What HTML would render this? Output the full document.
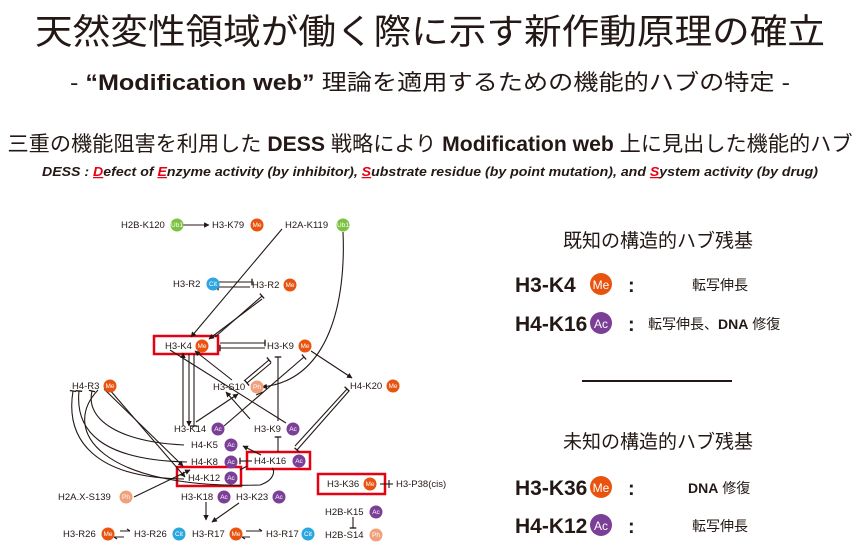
<!DOCTYPE html>
<html><head><meta charset="utf-8"><style>
html,body{margin:0;padding:0;background:#fff;}
svg{display:block}
.t{font-family:"Liberation Sans","Noto Sans CJK JP",sans-serif;fill:#231815}
.n{font-family:"Liberation Sans",sans-serif;font-size:9.5px;fill:#231815}
.b{font-family:"Liberation Sans",sans-serif;font-size:6.5px;fill:#fff;text-anchor:middle}
.e{stroke:#231815;stroke-width:1.1;fill:none}
</style></head><body>
<svg width="860" height="559" viewBox="0 0 860 559" xmlns="http://www.w3.org/2000/svg">
<defs>
<marker id="a" viewBox="0 0 10 10" refX="9" refY="5" markerWidth="5" markerHeight="5" orient="auto"><path d="M0,0L10,5L0,10z" fill="#231815"/></marker>
<marker id="b" viewBox="0 0 4 10" refX="2" refY="5" markerWidth="2.5" markerHeight="6" orient="auto"><path d="M2,0V10" stroke="#231815" stroke-width="2"/></marker>
</defs>
<text class="t" x="430" y="44" font-size="35" text-anchor="middle" textLength="790" lengthAdjust="spacingAndGlyphs">天然変性領域が働く際に示す新作動原理の確立</text>
<text class="t" x="430" y="90" font-size="22" text-anchor="middle" textLength="720" lengthAdjust="spacingAndGlyphs">- <tspan font-weight="bold">“Modification web”</tspan> 理論を適用するための機能的ハブの特定 -</text>
<text class="t" x="430" y="151" font-size="21" text-anchor="middle" textLength="845" lengthAdjust="spacingAndGlyphs">三重の機能阻害を利用した <tspan font-weight="bold">DESS</tspan> 戦略により <tspan font-weight="bold">Modification web</tspan> 上に見出した機能的ハブ</text>
<text class="t" x="430" y="176" font-size="12.5" font-weight="bold" font-style="italic" text-anchor="middle" textLength="776" lengthAdjust="spacingAndGlyphs">DESS : <tspan fill="#e60012" text-decoration="underline">D</tspan>efect of <tspan fill="#e60012" text-decoration="underline">E</tspan>nzyme activity (by inhibitor), <tspan fill="#e60012" text-decoration="underline">S</tspan>ubstrate residue (by point mutation), and <tspan fill="#e60012" text-decoration="underline">S</tspan>ystem activity (by drug)</text>

<!-- right panel -->
<text class="t" x="658" y="247" font-size="19" text-anchor="middle">既知の構造的ハブ残基</text>
<text class="t" x="515" y="292" font-size="21" font-weight="bold">H3-K4</text>
<circle cx="601" cy="284" r="11" fill="#e8540f"/><text class="b" x="601" y="289" style="font-size:12px">Me</text>
<text class="t" x="628" y="292" font-size="20" font-weight="bold">:</text>
<text class="t" x="692" y="290" font-size="14">転写伸長</text>
<text class="t" x="515" y="331" font-size="21" font-weight="bold">H4-K16</text>
<circle cx="601" cy="323" r="11" fill="#7b3f98"/><text class="b" x="601" y="328" style="font-size:12px">Ac</text>
<text class="t" x="628" y="331" font-size="20" font-weight="bold">:</text>
<text class="t" x="648" y="329" font-size="14">転写伸長、<tspan font-weight="bold">DNA</tspan> 修復</text>
<rect x="582" y="380" width="150" height="2" fill="#231815"/>
<text class="t" x="658" y="448" font-size="19" text-anchor="middle">未知の構造的ハブ残基</text>
<text class="t" x="515" y="495" font-size="21" font-weight="bold">H3-K36</text>
<circle cx="601" cy="487" r="11" fill="#e8540f"/><text class="b" x="601" y="492" style="font-size:12px">Me</text>
<text class="t" x="628" y="495" font-size="20" font-weight="bold">:</text>
<text class="t" x="688" y="493" font-size="14"><tspan font-weight="bold">DNA</tspan> 修復</text>
<text class="t" x="515" y="533" font-size="21" font-weight="bold">H4-K12</text>
<circle cx="601" cy="525" r="11" fill="#7b3f98"/><text class="b" x="601" y="530" style="font-size:12px">Ac</text>
<text class="t" x="628" y="533" font-size="20" font-weight="bold">:</text>
<text class="t" x="692" y="531" font-size="14">転写伸長</text>

<!-- diagram boxes -->
<rect x="154" y="336" width="64" height="18" fill="none" stroke="#e60012" stroke-width="2.5"/>
<rect x="247" y="452" width="63" height="17" fill="none" stroke="#e60012" stroke-width="2.5"/>
<rect x="177" y="467" width="64" height="19" fill="none" stroke="#e60012" stroke-width="2.5"/>
<rect x="318" y="474" width="67" height="20" fill="none" stroke="#e60012" stroke-width="2.5"/>

<!-- edges -->
<g class="e">
<path d="M183,225H209" marker-end="url(#a)"/>
<path d="M282,229L191,337" marker-end="url(#a)"/>
<path d="M343,232C346,300 330,380 262,387" marker-end="url(#a)"/>
<path d="M218,282H252" marker-end="url(#b)"/>
<path d="M250,287H218" marker-end="url(#b)"/>
<path d="M215,337L262,296" marker-end="url(#b)"/>
<path d="M262,299L209,339" marker-end="url(#a)"/>
<path d="M220,343H265" marker-end="url(#b)"/>
<path d="M265,348H220" marker-end="url(#b)"/>
<path d="M311,351L352,378" marker-end="url(#a)"/>
<path d="M232,380L195,351" marker-end="url(#a)"/>
<path d="M244,381L269,360" marker-end="url(#b)"/>
<path d="M271,363L247,383" marker-end="url(#b)"/>
<path d="M183,426V353" marker-end="url(#a)"/>
<path d="M189,354V426" marker-end="url(#a)"/>
<path d="M194,354V426" marker-end="url(#b)"/>
<path d="M278,421V357" marker-end="url(#b)"/>
<path d="M286,423L170,350" />
<path d="M224,426L304,357" marker-end="url(#b)"/>
<path d="M196,422L238,394" marker-end="url(#a)"/>
<path d="M250,419L226,392" marker-end="url(#a)"/>
<path d="M256,395L263,392"/>
<path d="M104,389L183,466" marker-end="url(#a)"/>
<path d="M109,389L185,477" marker-end="url(#a)"/>
<path d="M184,445C120,442 85,420 92,391" marker-end="url(#b)"/>
<path d="M187,462C100,460 75,430 79,391" marker-end="url(#b)"/>
<path d="M184,479C95,478 65,440 73,391" marker-end="url(#b)"/>
<path d="M98,390C60,430 100,490 260,485C275,480 275,470 272,468"/>
<path d="M134,497L190,470" marker-end="url(#a)"/>
<path d="M252,461H240" marker-end="url(#b)"/>
<path d="M278,452V437" marker-end="url(#b)"/>
<path d="M261,455L243,446" marker-end="url(#a)"/>
<path d="M247,466L240,470"/>
<path d="M295,446L347,389" marker-end="url(#b)"/>
<path d="M349,391L297,450" marker-end="url(#b)"/>
<path d="M206,502V520" marker-end="url(#a)"/>
<path d="M239,503L212,522" marker-end="url(#a)"/>
<path d="M380,484H393"/>
<path d="M389,480V488"/>
<path d="M353,517V528" marker-end="url(#b)"/>
</g>
<g class="e" stroke-width="1">
<path d="M120,531H130M124,537H114"/><path d="M130,531l-3,-2M114,537l3,2"/>
<path d="M246,531H262M250,537H242"/><path d="M262,531l-3,-2M242,537l3,2"/>
</g>

<!-- nodes -->
<g class="n">
<text x="121" y="228">H2B-K120</text>
<text x="212" y="228">H3-K79</text>
<text x="285" y="228">H2A-K119</text>
<text x="173" y="287">H3-R2</text>
<text x="252" y="288">H3-R2</text>
<text x="165" y="349">H3-K4</text>
<text x="267" y="349">H3-K9</text>
<text x="213" y="390">H3-S10</text>
<text x="350" y="389">H4-K20</text>
<text x="72" y="389">H4-R3</text>
<text x="174" y="432">H3-K14</text>
<text x="254" y="432">H3-K9</text>
<text x="191" y="448">H4-K5</text>
<text x="191" y="465">H4-K8</text>
<text x="254" y="464">H4-K16</text>
<text x="188" y="481">H4-K12</text>
<text x="327" y="487">H3-K36</text>
<text x="396" y="487">H3-P38(cis)</text>
<text x="58" y="500">H2A.X-S139</text>
<text x="181" y="500">H3-K18</text>
<text x="236" y="500">H3-K23</text>
<text x="325" y="515">H2B-K15</text>
<text x="325" y="538">H2B-S14</text>
<text x="63" y="537">H3-R26</text>
<text x="134" y="537">H3-R26</text>
<text x="192" y="537">H3-R17</text>
<text x="266" y="537">H3-R17</text>
</g>
<g>
<circle cx="177" cy="225" r="6.5" fill="#7cc242"/><text class="b" x="177" y="227">Ub1</text>
<circle cx="257" cy="225" r="6.5" fill="#e8540f"/><text class="b" x="257" y="227">Me</text>
<circle cx="343" cy="225" r="6.5" fill="#7cc242"/><text class="b" x="343" y="227">Ub1</text>
<circle cx="213" cy="284" r="6.5" fill="#2ca6e0"/><text class="b" x="213" y="286">Cit</text>
<circle cx="290" cy="285" r="6.5" fill="#e8540f"/><text class="b" x="290" y="287">Me</text>
<circle cx="202" cy="346" r="6.5" fill="#e8540f"/><text class="b" x="202" y="348">Me</text>
<circle cx="305" cy="346" r="6.5" fill="#e8540f"/><text class="b" x="305" y="348">Me</text>
<circle cx="257" cy="387" r="6.5" fill="#f0a07a"/><text class="b" x="257" y="389">Ph</text>
<circle cx="393" cy="386" r="6.5" fill="#e8540f"/><text class="b" x="393" y="388">Me</text>
<circle cx="110" cy="386" r="6.5" fill="#e8540f"/><text class="b" x="110" y="388">Me</text>
<circle cx="218" cy="429" r="6.5" fill="#7b3f98"/><text class="b" x="218" y="431">Ac</text>
<circle cx="293" cy="429" r="6.5" fill="#7b3f98"/><text class="b" x="293" y="431">Ac</text>
<circle cx="231" cy="445" r="6.5" fill="#7b3f98"/><text class="b" x="231" y="447">Ac</text>
<circle cx="231" cy="462" r="6.5" fill="#7b3f98"/><text class="b" x="231" y="464">Ac</text>
<circle cx="299" cy="461" r="6.5" fill="#7b3f98"/><text class="b" x="299" y="463">Ac</text>
<circle cx="231" cy="478" r="6.5" fill="#7b3f98"/><text class="b" x="231" y="480">Ac</text>
<circle cx="370" cy="484" r="6.5" fill="#e8540f"/><text class="b" x="370" y="486">Me</text>
<circle cx="126" cy="497" r="6.5" fill="#f0a07a"/><text class="b" x="126" y="499">Ph</text>
<circle cx="224" cy="497" r="6.5" fill="#7b3f98"/><text class="b" x="224" y="499">Ac</text>
<circle cx="279" cy="497" r="6.5" fill="#7b3f98"/><text class="b" x="279" y="499">Ac</text>
<circle cx="376" cy="512" r="6.5" fill="#7b3f98"/><text class="b" x="376" y="514">Ac</text>
<circle cx="376" cy="535" r="6.5" fill="#f0a07a"/><text class="b" x="376" y="537">Ph</text>
<circle cx="108" cy="534" r="6.5" fill="#e8540f"/><text class="b" x="108" y="536">Me</text>
<circle cx="179" cy="534" r="6.5" fill="#2ca6e0"/><text class="b" x="179" y="536">Cit</text>
<circle cx="236" cy="534" r="6.5" fill="#e8540f"/><text class="b" x="236" y="536">Me</text>
<circle cx="308" cy="534" r="6.5" fill="#2ca6e0"/><text class="b" x="308" y="536">Cit</text>
</g>
</svg>
</body></html>
